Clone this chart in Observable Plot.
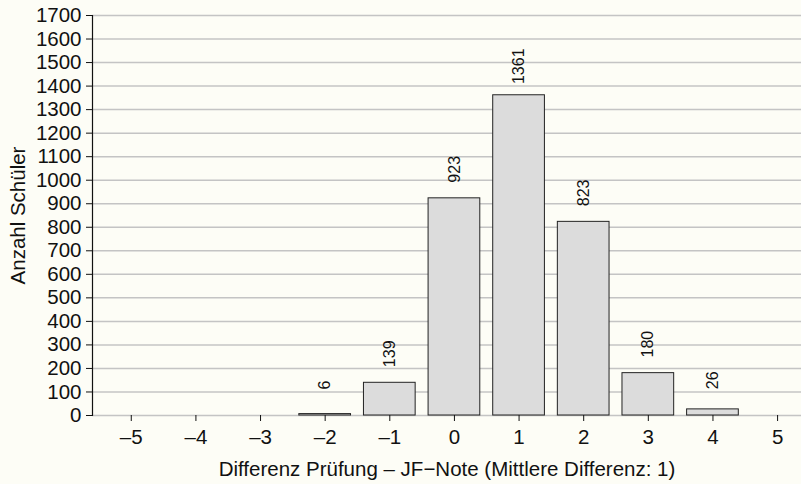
<!DOCTYPE html>
<html>
<head>
<meta charset="utf-8">
<script src="https://cdn.jsdelivr.net/npm/d3@7"></script>
<script src="https://cdn.jsdelivr.net/npm/@observablehq/plot@0.6"></script>
<style>
  html, body { margin: 0; padding: 0; background: #fdfdf6; }
  #chart svg { display: block; }
</style>
</head>
<body>
<div id="chart"></div>
<script>
const differences = [-5, -4, -3, -2, -1, 0, 1, 2, 3, 4, 5];
const counts = [0, 0, 0, 6, 139, 923, 1361, 823, 180, 26, 0];
const yTicks = d3.range(0, 1701, 100);
const xLabel = "Differenz Prüfung – JF−Note (Mittlere Differenz: 1)";
const yLabel = "Anzahl Schüler";

const data = differences.map((x, i) => ({x, n: counts[i]}));
const labelled = data.filter(d => d.n > 0);
const fmt = d => d < 0 ? "–" + (-d) : String(d);

const chart = Plot.plot({
  width: 801,
  height: 484,
  marginLeft: 92,
  marginRight: 0,
  marginTop: 15,
  marginBottom: 69,
  style: {background: "#fdfdf6", fontFamily: "'Liberation Sans', Arial, sans-serif", fontSize: "20.5px", color: "#111"},
  x: {domain: [-5.6, 5.37]},
  y: {domain: [0, 1700]},
  marks: [
    Plot.gridY(yTicks, {stroke: "#c4c4c4", strokeOpacity: 1, strokeWidth: 1.5}),
    Plot.rect(data.filter(d => d.n > 0), {
      x1: d => d.x - 0.4, x2: d => d.x + 0.4, y1: 0, y2: "n",
      fill: "#dcdcdc", stroke: "#222", strokeWidth: 1
    }),
    Plot.text(labelled, {
      x: "x", y: "n", text: d => String(d.n), rotate: -90, dy: -29,
      textAnchor: "middle", fontSize: 16, fill: "#111"
    }),
    Plot.frame({anchor: "left", stroke: "#111", strokeWidth: 1.2}),
    Plot.axisY(yTicks, {
      tickSize: 6, tickPadding: 5, fontSize: 20.5, label: yLabel, labelAnchor: "center",
      labelOffset: 82, labelArrow: "none", tickFormat: d => String(d)
    }),
    Plot.axisX(differences, {
      tickSize: 6, tickPadding: 8, fontSize: 20.5, tickFormat: fmt, label: xLabel,
      labelAnchor: "center", labelOffset: 60, labelArrow: "none"
    })
  ]
});
document.getElementById("chart").appendChild(chart);
</script>
</body>
</html>
